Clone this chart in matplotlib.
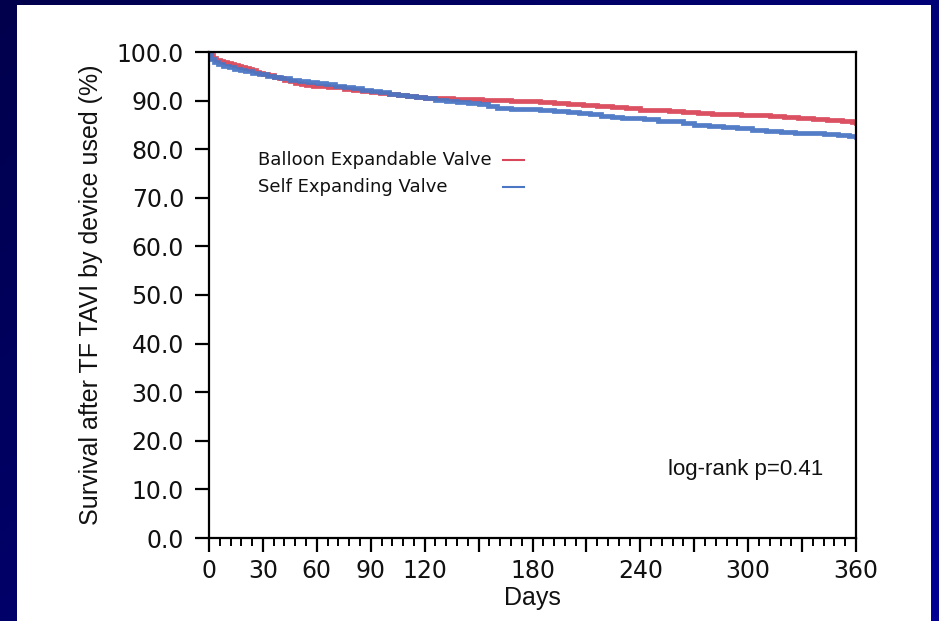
import numpy as np
import matplotlib
matplotlib.use("Agg")
import matplotlib.pyplot as plt
from matplotlib.patches import Rectangle
from matplotlib.ticker import FixedLocator, FixedFormatter, MultipleLocator

# ---- data ----
balloon_days = [0, 1, 2, 4, 6, 8, 10, 12, 14, 16, 18, 20, 22, 24, 26, 28, 30, 33, 36,
                39, 42, 45, 48, 51, 54, 58, 62, 66, 70, 75, 80, 85, 90, 95, 100, 105,
                110, 115, 120, 128, 136, 144, 152, 160, 168, 176, 184, 192, 200, 208,
                216, 224, 232, 240, 248, 256, 264, 272, 280, 288, 296, 304, 312, 320,
                328, 336, 344, 352, 358, 360]
balloon_surv = [100.0, 99.3, 98.8, 98.4, 98.1, 97.9, 97.7, 97.5, 97.3, 97.1, 96.9,
                96.7, 96.4, 96.2, 95.9, 95.7, 95.5, 95.2, 94.9, 94.6, 94.3, 94.0,
                93.7, 93.4, 93.2, 93.1, 93.0, 92.9, 92.7, 92.4, 92.1, 92.0, 91.8,
                91.6, 91.3, 91.1, 90.9, 90.7, 90.6, 90.5, 90.4, 90.3, 90.2, 90.1,
                90.0, 89.9, 89.7, 89.5, 89.3, 89.1, 88.9, 88.7, 88.4, 88.1, 88.0,
                87.8, 87.6, 87.5, 87.3, 87.2, 87.1, 87.0, 86.9, 86.7, 86.4, 86.2,
                86.1, 85.8, 85.5, 85.3]

self_days = [0, 1, 3, 5, 8, 11, 14, 17, 20, 24, 28, 32, 36, 40, 45, 50, 55, 60, 65,
             70, 75, 80, 85, 90, 95, 100, 105, 110, 115, 120, 126, 132, 138, 144,
             150, 155, 160, 168, 176, 184, 192, 200, 206, 212, 218, 224, 230, 236,
             242, 250, 258, 264, 270, 278, 286, 294, 302, 310, 318, 326, 334, 342,
             350, 356, 360]
self_surv = [100.0, 98.6, 98.0, 97.6, 97.2, 96.9, 96.6, 96.3, 96.0, 95.7, 95.4, 95.1,
             94.8, 94.6, 94.3, 94.1, 93.9, 93.7, 93.4, 93.1, 92.8, 92.5, 92.2, 92.0,
             91.7, 91.4, 91.1, 90.9, 90.7, 90.5, 90.2, 89.9, 89.7, 89.5, 89.2, 88.8,
             88.4, 88.3, 88.2, 88.0, 87.8, 87.7, 87.5, 87.2, 86.9, 86.7, 86.5, 86.4,
             86.2, 85.9, 85.7, 85.3, 85.0, 84.8, 84.6, 84.4, 84.0, 83.8, 83.6, 83.4,
             83.3, 83.1, 82.9, 82.7, 82.5]

series_labels = ["Balloon Expandable Valve", "Self Expanding Valve"]
series_colors = ["#d9475a", "#4a76c4"]

x_ticks = list(range(0, 361, 30))
x_tick_labels = ["0", "30", "60", "90", "120", "", "180", "", "240", "", "300", "", "360"]
y_ticks = list(range(0, 101, 10))
y_tick_labels = [f"{v:.1f}" for v in y_ticks]

# ---- figure ----
fig = plt.figure(figsize=(9.39, 6.21), dpi=100)

# gradient navy background
bg = fig.add_axes([0, 0, 1, 1], zorder=-10)
gx, gy = np.meshgrid(np.linspace(0, 1, 200), np.linspace(0, 1, 200))
g = 0.6 * gx + 0.4 * gy
c0 = np.array([0.0, 0.0, 0.30])
c1 = np.array([0.0, 0.0, 0.58])
img = c0[None, None, :] + (c1 - c0)[None, None, :] * g[:, :, None]
bg.imshow(img, extent=[0, 1, 0, 1], aspect="auto", origin="upper")
bg.set_xlim(0, 1)
bg.set_ylim(0, 1)
bg.axis("off")
bg.add_patch(Rectangle((17 / 939, 0), (931 - 17) / 939, (621 - 5) / 621,
                       facecolor="white", edgecolor="none"))

ax = fig.add_axes([209 / 939, (621 - 538) / 621, (856 - 209) / 939, (538 - 52) / 621])
ax.set_facecolor("white")

for d, s, col in [(balloon_days, balloon_surv, series_colors[0]),
                  (self_days, self_surv, series_colors[1])]:
    ax.plot(d, s, drawstyle="steps-post", color=col, lw=3.4, solid_joinstyle="miter",
            alpha=0.95)

ax.set_xlim(0, 360)
ax.set_ylim(0, 100)

ax.xaxis.set_major_locator(FixedLocator(x_ticks))
ax.xaxis.set_major_formatter(FixedFormatter(x_tick_labels))
ax.xaxis.set_minor_locator(MultipleLocator(6))
ax.yaxis.set_major_locator(FixedLocator(y_ticks))
ax.yaxis.set_major_formatter(FixedFormatter(y_tick_labels))

ax.tick_params(axis="both", which="major", direction="out", length=10, width=1.6,
               labelsize=17, colors="black", labelcolor="#111111")
ax.tick_params(axis="x", which="major", pad=5)
ax.tick_params(axis="y", which="major", pad=8)
ax.tick_params(axis="x", which="minor", direction="out", length=5.5, width=1.4)
for lab in ax.get_xticklabels() + ax.get_yticklabels():
    lab.set_family("DejaVu Sans")

for sp in ax.spines.values():
    sp.set_linewidth(1.6)
    sp.set_color("black")

ax.set_xlabel("Days", fontsize=18, family="Liberation Sans", color="#111111", labelpad=2)
ax.set_ylabel("Survival after TF TAVI by device used (%)", fontsize=18,
              family="Liberation Sans", color="#111111", labelpad=10)

# legend (text left-aligned, keys at right)
leg_y = [0.778, 0.722]
for yy, lab, col in zip(leg_y, series_labels, series_colors):
    ax.text(0.0757, yy, lab, transform=ax.transAxes, fontsize=13,
            family="DejaVu Sans", color="#111111", ha="left", va="center")
    ax.plot([0.454, 0.487], [yy, yy], transform=ax.transAxes, color=col, lw=1.5)

ax.text(0.709, 0.14, "log-rank p=0.41", transform=ax.transAxes, fontsize=16,
        family="Liberation Sans", color="#111111", ha="left", va="center")

fig.savefig("out.png", dpi=100)
